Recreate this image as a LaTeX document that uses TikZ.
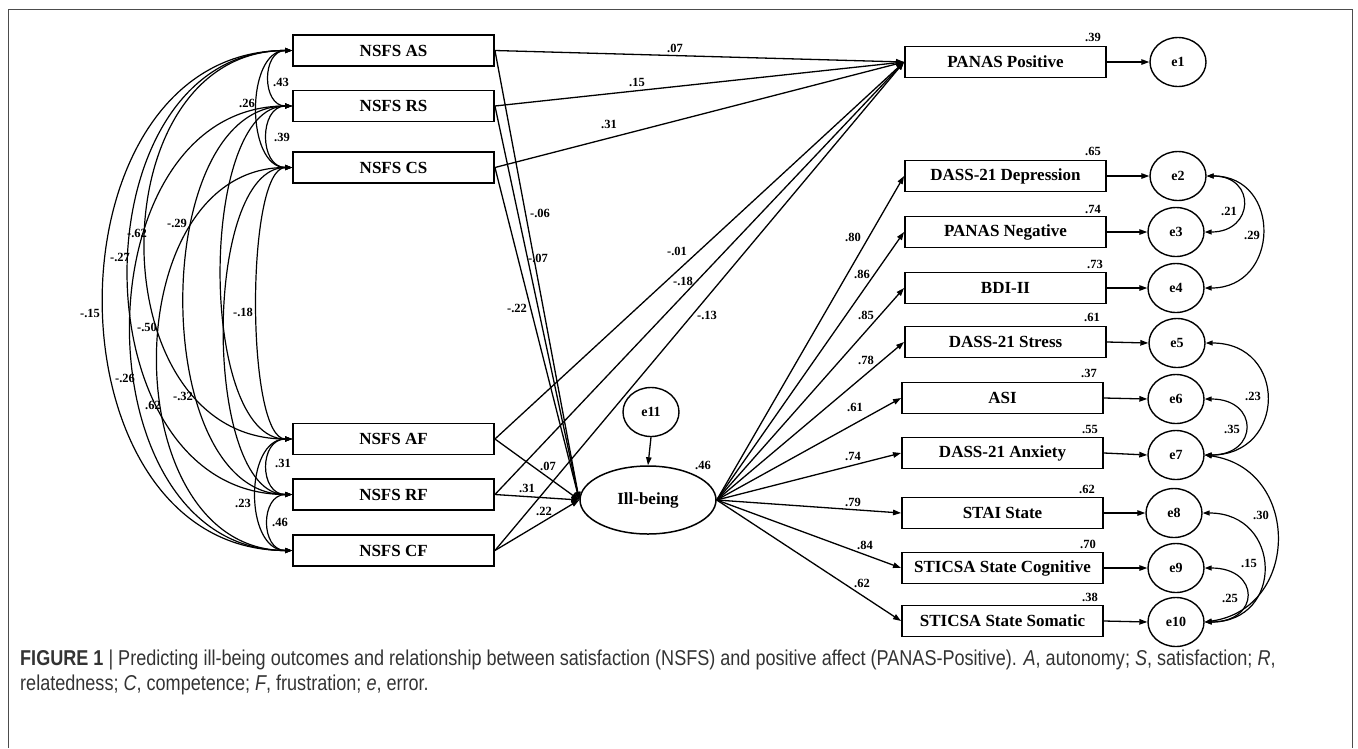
\documentclass[tikz,border=0pt]{standalone}
\usepackage{fontspec}
\setmainfont{Liberation Serif}
\newfontfamily\capfont[FakeStretch=0.84]{Liberation Sans}
\usetikzlibrary{arrows.meta,shapes.geometric}
\newcommand\coefl[4]{\node[coef] (#1) at (#2,-#3) {#4};}
\tikzset{
  obs/.style={draw, line width=1.9pt, minimum width=201pt, minimum height=31pt, inner sep=0pt,
    font=\fontsize{17}{17}\selectfont\bfseries},
  err/.style={draw, ellipse, line width=1.4pt, minimum width=56pt, minimum height=49pt, inner sep=0pt,
    font=\fontsize{14}{14}\selectfont\bfseries},
  lat/.style={draw, ellipse, line width=1.5pt, minimum width=136pt, minimum height=68pt, inner sep=0pt,
    font=\fontsize{17}{17}\selectfont\bfseries},
  pth/.style={line width=1.3pt, -{Triangle[length=8pt,width=5.5pt]}},
  cov/.style={line width=1.2pt, {Triangle[length=7pt,width=5pt]}-{Triangle[length=7pt,width=5pt]}},
  coef/.style={inner sep=0pt, font=\fontsize{12.5}{12.5}\selectfont\bfseries},
  captxt/.style={anchor=west, inner sep=0pt, text=black!80, font=\capfont\fontsize{21.5}{21.5}\selectfont},
}
\begin{document}
\begin{tikzpicture}[x=1pt,y=1pt]
\useasboundingbox (0,0) rectangle (1358,-748);
\draw[line width=1pt, black!70] (8,-748) -- (8,-9) -- (1352,-9) -- (1352,-748);

% left observed variables
\node[obs] (AS) at (393.5,-50.5) {NSFS AS};
\node[obs] (RS) at (393.5,-106) {NSFS RS};
\node[obs] (CS) at (393.5,-167.5) {NSFS CS};
\node[obs] (AF) at (393.5,-439) {NSFS AF};
\node[obs] (RF) at (393.5,-494.5) {NSFS RF};
\node[obs] (CF) at (393.5,-550.5) {NSFS CF};

% latent and its error
\node[lat] (IB) at (648,-500) {Ill-being};
\node[err] (e11) at (651,-412) {e11};

% right observed variables
\node[obs] (PP) at (1005.5,-62) {PANAS Positive};
\node[obs] (DD) at (1005.5,-176) {DASS-21 Depression};
\node[obs] (PN) at (1005.5,-232) {PANAS Negative};
\node[obs] (BDI) at (1005.5,-288) {BDI-II};
\node[obs] (DS) at (1005.5,-342) {DASS-21 Stress};
\node[obs] (ASI) at (1002.5,-398) {ASI};
\node[obs] (DA) at (1002.5,-453) {DASS-21 Anxiety};
\node[obs] (STAI) at (1002.5,-513) {STAI State};
\node[obs] (SC) at (1002.5,-568) {STICSA State Cognitive};
\node[obs] (SSo) at (1002.5,-621) {STICSA State Somatic};

% error terms
\node[err] (e1) at (1178,-62) {e1};
\node[err] (e2) at (1178,-176) {e2};
\node[err] (e3) at (1176,-232) {e3};
\node[err] (e4) at (1176,-288) {e4};
\node[err] (e5) at (1177,-343) {e5};
\node[err] (e6) at (1176,-399) {e6};
\node[err] (e7) at (1176,-455) {e7};
\node[err] (e8) at (1174,-513) {e8};
\node[err] (e9) at (1176,-568) {e9};
\node[err] (e10) at (1176,-622) {e10};

% regression paths to PANAS Positive
\foreach \s in {AS,RS,CS,AF,RF,CF} \draw[pth] (\s.east) -- (PP.west);
% regression paths to Ill-being
\foreach \s in {AS,RS,CS,AF,RF,CF} \draw[pth] (\s.east) -- (IB.west);
\draw[pth] (e11.south) -- (IB.north);
% loadings
\foreach \t in {DD,PN,BDI,DS,ASI,DA,STAI,SC,SSo} \draw[pth] (IB.east) -- (\t.west);
% errors
\draw[pth] (PP.east) -- (e1.west);
\draw[pth] (DD.east) -- (e2.west);
\draw[pth] (PN.east) -- (e3.west);
\draw[pth] (BDI.east) -- (e4.west);
\draw[pth] (DS.east) -- (e5.west);
\draw[pth] (ASI.east) -- (e6.west);
\draw[pth] (DA.east) -- (e7.west);
\draw[pth] (STAI.east) -- (e8.west);
\draw[pth] (SC.east) -- (e9.west);
\draw[pth] (SSo.east) -- (e10.west);

% covariances among predictors (left)
\draw[cov] (AS.west) to[out=180,in=180,looseness=1.41] (RS.west);
\draw[cov] (RS.west) to[out=180,in=180,looseness=1.385] (CS.west);
\draw[cov] (AS.west) to[out=180,in=180,looseness=1.02] (CS.west);
\draw[cov] (AF.west) to[out=180,in=180,looseness=1.53] (RF.west);
\draw[cov] (RF.west) to[out=180,in=180,looseness=1.46] (CF.west);
\draw[cov] (AF.west) to[out=180,in=180,looseness=1.10] (CF.west);
\draw[cov] (AS.west) to[out=180,in=180,looseness=1.289] (AF.west);
\draw[cov] (AS.west) to[out=180,in=180,looseness=1.258] (RF.west);
\draw[cov] (AS.west) to[out=180,in=180,looseness=1.287] (CF.west);
\draw[cov] (RS.west) to[out=180,in=180,looseness=0.722] (AF.west);
\draw[cov] (RS.west) to[out=180,in=180,looseness=0.947] (RF.west);
\draw[cov] (RS.west) to[out=180,in=180,looseness=1.238] (CF.west);
\draw[cov] (CS.west) to[out=180,in=180,looseness=0.439] (AF.west);
\draw[cov] (CS.west) to[out=180,in=180,looseness=0.703] (RF.west);
\draw[cov] (CS.west) to[out=180,in=180,looseness=1.196] (CF.west);

% covariances among errors (right)
\draw[cov] (e2.east) to[out=0,in=0,looseness=2.27] (e3.east);
\draw[cov] (e2.east) to[out=0,in=0,looseness=1.72] (e4.east);
\draw[cov] (e5.east) to[out=0,in=0,looseness=1.87] (e7.east);
\draw[cov] (e6.east) to[out=0,in=0,looseness=2.49] (e7.east);
\draw[cov] (e7.east) to[out=-8,in=8,looseness=1.49] (e10.east);
\draw[cov] (e8.east) to[out=0,in=0,looseness=1.87] (e10.east);
\draw[cov] (e9.east) to[out=0,in=0,looseness=2.65] (e10.east);

% coefficient labels, left covariances
\coefl{c1}{281}{82}{.43}
\coefl{c2}{247}{103}{.26}
\coefl{c3}{282}{137}{.39}
\coefl{c4}{137}{233}{-.62}
\coefl{c5}{120}{257}{-.27}
\coefl{c6}{177}{223}{-.29}
\coefl{c7}{90}{313}{-.15}
\coefl{c8}{243}{312}{-.18}
\coefl{c9}{147}{327}{-.50}
\coefl{c10}{125}{378}{-.26}
\coefl{c11}{153}{405}{.62}
\coefl{c12}{183}{396}{-.32}
\coefl{c13}{283}{463}{.31}
\coefl{c14}{243}{503}{.23}
\coefl{c15}{280}{522}{.46}
% regression labels
\coefl{p1}{675}{48}{.07}
\coefl{p2}{637}{82}{.15}
\coefl{p3}{609}{124}{.31}
\coefl{p4}{540}{213}{-.06}
\coefl{p5}{538}{258}{-.07}
\coefl{p6}{517}{308}{-.22}
\coefl{p7}{677}{251}{-.01}
\coefl{p8}{683}{281}{-.18}
\coefl{p9}{707}{315}{-.13}
\coefl{p10}{548}{466}{.07}
\coefl{p11}{527}{488}{.31}
\coefl{p12}{544}{511}{.22}
\coefl{p13}{703}{465}{.46}
% loadings labels
\coefl{q1}{853}{237}{.80}
\coefl{q2}{862}{274}{.86}
\coefl{q3}{866}{315}{.85}
\coefl{q4}{866}{360}{.78}
\coefl{q5}{855}{407}{.61}
\coefl{q6}{853}{456}{.74}
\coefl{q7}{853}{502}{.79}
\coefl{q8}{865}{545}{.84}
\coefl{q9}{862}{583}{.62}
% R squared labels
\coefl{r1}{1093}{37}{.39}
\coefl{r2}{1093}{151}{.65}
\coefl{r3}{1093}{209}{.74}
\coefl{r4}{1095}{264}{.73}
\coefl{r5}{1092}{317}{.61}
\coefl{r6}{1089}{373}{.37}
\coefl{r7}{1090}{429}{.55}
\coefl{r8}{1087}{489}{.62}
\coefl{r9}{1088}{544}{.70}
\coefl{r10}{1090}{597}{.38}
% error covariance labels
\coefl{s1}{1229}{211}{.21}
\coefl{s2}{1252}{235}{.29}
\coefl{s3}{1253}{396}{.23}
\coefl{s4}{1232}{429}{.35}
\coefl{s5}{1261}{515}{.30}
\coefl{s6}{1249}{563}{.15}
\coefl{s7}{1230}{598}{.25}

% caption
\node[captxt] (cap1) at (20,-660) {\textbf{FIGURE 1} | Predicting ill-being outcomes and relationship between satisfaction (NSFS) and positive affect (PANAS-Positive). \textit{A}, autonomy; \textit{S}, satisfaction; \textit{R},};
\node[captxt] (cap2) at (20,-685) {relatedness; \textit{C}, competence; \textit{F}, frustration; \textit{e}, error.};
\end{tikzpicture}
\end{document}
